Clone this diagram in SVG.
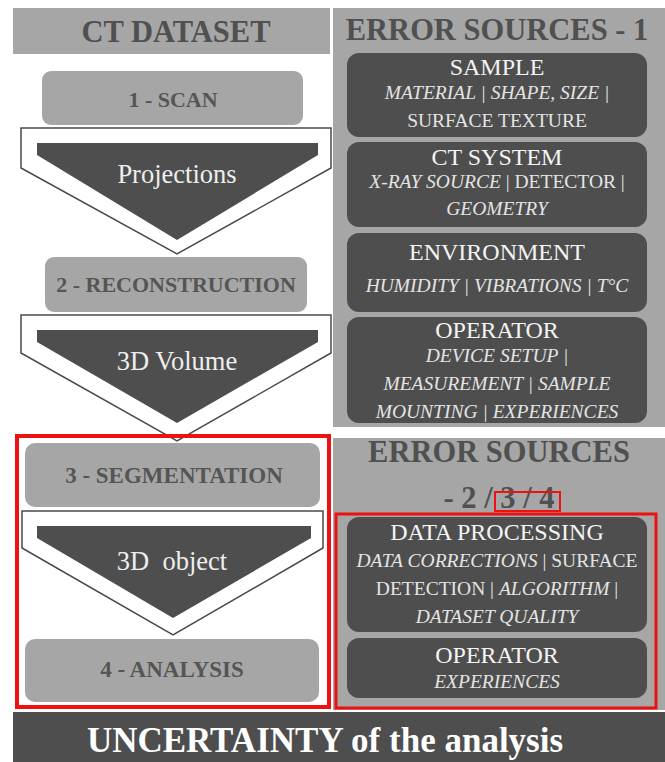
<svg xmlns="http://www.w3.org/2000/svg" width="665" height="762" viewBox="0 0 665 762">
<style>
text{font-family:"Liberation Serif",serif;text-anchor:middle}
.panel{fill:#a6a6a6}
.dark{fill:#4e4e4e}
.hdr{font-weight:bold;font-size:30.5px;fill:#505050}
.stxt{font-weight:bold;font-size:22px;fill:#555555}
.big{font-size:23px}
.arrowout{fill:#ffffff;stroke:#4a4a4a;stroke-width:1.5}
.arrowin{fill:#4e4e4e}
.atxt{font-size:26.5px;fill:#eeeeee}
.t1{font-size:24px;fill:#f4f4f4}
.t2{font-size:19.5px;fill:#e4e4e4}
.it{font-style:italic}
.red{fill:none;stroke:#ee1111}
.bottom{font-weight:bold;font-size:35px;fill:#ffffff}
</style>
<rect width="665" height="762" fill="#ffffff"/>

<g id="ct-dataset-header">
<rect class="panel" x="13" y="8" width="317" height="46"/>
<text class="hdr" x="176" y="42">CT DATASET</text>
</g>

<g id="error-sources-1">
<rect class="panel" x="333" y="8" width="332" height="419"/>
<text class="hdr" x="497" y="40">ERROR SOURCES - 1</text>
</g>

<g id="sample">
<rect class="dark" x="347" y="53" width="300" height="84" rx="12"/>
<text class="t1" x="497" y="75">SAMPLE</text>
<text class="t2 it" x="497" y="99">MATERIAL | SHAPE, SIZE |</text>
<text class="t2" x="497" y="127">SURFACE TEXTURE</text>
</g>

<g id="ct-system">
<rect class="dark" x="347" y="142" width="300" height="85" rx="12"/>
<text class="t1" x="497" y="165">CT SYSTEM</text>
<text class="t2" x="497" y="188"><tspan class="it">X-RAY SOURCE</tspan> | DETECTOR |</text>
<text class="t2 it" x="497" y="215">GEOMETRY</text>
</g>

<g id="environment">
<rect class="dark" x="347" y="233" width="300" height="79" rx="12"/>
<text class="t1" x="497" y="260">ENVIRONMENT</text>
<text class="t2 it" x="497" y="292">HUMIDITY | VIBRATIONS | T&#176;C</text>
</g>

<g id="operator-1">
<rect class="dark" x="347" y="317" width="300" height="106" rx="12"/>
<text class="t1" x="497" y="338">OPERATOR</text>
<text class="t2 it" x="497" y="362">DEVICE SETUP |</text>
<text class="t2 it" x="497" y="390">MEASUREMENT | SAMPLE</text>
<text class="t2 it" x="497" y="418">MOUNTING | EXPERIENCES</text>
</g>

<g id="error-sources-234">
<rect class="panel" x="333" y="438" width="332" height="272"/>
<text class="hdr" x="499" y="462">ERROR SOURCES</text>
<text class="hdr" x="499" y="508">- 2 / 3 / 4</text>
<rect class="red" x="495" y="492" width="65" height="19" stroke-width="2"/>
</g>

<g id="data-processing">
<rect class="dark" x="347" y="517" width="300" height="115" rx="12"/>
<text class="t1" x="497" y="540">DATA PROCESSING</text>
<text class="t2" x="497" y="567"><tspan class="it">DATA CORRECTIONS</tspan> | SURFACE</text>
<text class="t2" x="497" y="595">DETECTION | <tspan class="it">ALGORITHM</tspan> |</text>
<text class="t2 it" x="497" y="623">DATASET QUALITY</text>
</g>

<g id="operator-2">
<rect class="dark" x="347" y="638" width="300" height="60" rx="12"/>
<text class="t1" x="497" y="663">OPERATOR</text>
<text class="t2 it" x="497" y="688">EXPERIENCES</text>
</g>

<g id="step-1-scan">
<rect class="panel" x="42" y="71" width="261" height="54" rx="9"/>
<text class="stxt" x="173" y="107">1 - SCAN</text>
</g>

<g id="step-2-reconstruction">
<rect class="panel" x="45" y="257" width="262" height="55" rx="9"/>
<text class="stxt" x="176" y="292">2 - RECONSTRUCTION</text>
</g>

<g id="step-3-segmentation">
<rect class="panel" x="25" y="443" width="295" height="64" rx="10"/>
<text class="stxt big" x="174" y="483">3 - SEGMENTATION</text>
</g>

<g id="step-4-analysis">
<rect class="panel" x="25" y="639" width="294" height="63" rx="10"/>
<text class="stxt big" x="172" y="677">4 - ANALYSIS</text>
</g>

<g id="connectors">
<g id="arrow-projections">
<polygon class="arrowout" points="21,128 331,128 331,168 177,254 21,168"/>
<polygon class="arrowin" points="37,143 318,143 318,155 177,240 37,155"/>
<text class="atxt" x="177" y="183">Projections</text>
</g>
<g id="arrow-3d-volume">
<polygon class="arrowout" points="21,315 331,315 331,353 177,441 21,353"/>
<polygon class="arrowin" points="37,330 318,330 318,342 177,423 37,342"/>
<text class="atxt" x="177" y="370">3D Volume</text>
</g>
<g id="arrow-3d-object">
<polygon class="arrowout" points="22,511 323,511 323,548 173,635 22,548"/>
<polygon class="arrowin" points="37,526 311,526 311,538 173,618 37,538"/>
<text class="atxt" x="172" y="570" xml:space="preserve">3D  object</text>
</g>
</g>

<g id="highlight-left">
<rect class="red" x="17" y="436" width="312" height="271" stroke-width="4"/>
</g>
<g id="highlight-right">
<rect class="red" x="336" y="514" width="320" height="194" stroke-width="3"/>
</g>

<g id="uncertainty">
<rect x="13" y="712" width="652" height="50" fill="#4e4e4e"/>
<text class="bottom" x="325" y="752">UNCERTAINTY of the analysis</text>
</g>
</svg>
